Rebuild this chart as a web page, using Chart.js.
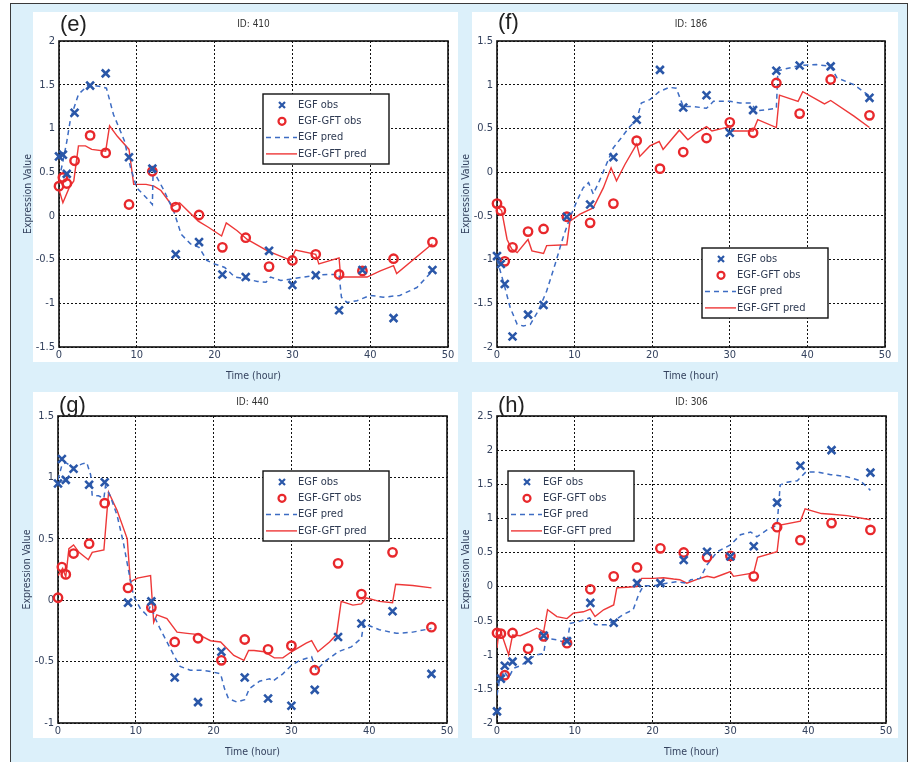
<!DOCTYPE html>
<html>
<head>
<meta charset="utf-8">
<script src="https://cdn.jsdelivr.net/npm/chart.js@4.4.1/dist/chart.umd.min.js"></script>
<style>
  body { margin: 0; width: 912px; height: 762px; overflow: hidden; background: #fff; position: relative; }
  .frame { position: absolute; left: 10px; top: 3px; width: 896px; height: 790px; border: 1.5px solid #3a3a3a; background: #dcf0fa; }
  .panel { position: absolute; background: #fff; }
  canvas { position: absolute; }
</style>
</head>
<body>
<div class="frame"></div>
<div class="panel" style="left:33px;top:12px;width:425px;height:350px"></div>
<div class="panel" style="left:472px;top:12px;width:426px;height:350px"></div>
<div class="panel" style="left:33px;top:392px;width:425px;height:346px"></div>
<div class="panel" style="left:472px;top:392px;width:426px;height:346px"></div>

<canvas id="c410" width="446" height="381" style="left:14px;top:8px"></canvas>
<canvas id="c186" width="445" height="381" style="left:452px;top:8px"></canvas>
<canvas id="c440" width="446" height="382" style="left:13px;top:383px"></canvas>
<canvas id="c306" width="446" height="382" style="left:452px;top:383px"></canvas>

<script>
// sampling times of the observations (hours)
const obsTime = [0, 0.5, 1, 2, 4, 6, 9, 12, 15, 18, 21, 24, 27, 30, 33, 36, 39, 43, 48];
const seriesNames = ['EGF obs', 'EGF-GFT obs', 'EGF pred', 'EGF-GFT pred'];

// ID 410
const egfObs410 = [0.68, 0.70, 0.48, 1.18, 1.49, 1.63, 0.67, 0.54, -0.44, -0.30, -0.67, -0.70, -0.40, -0.79, -0.68, -1.08, -0.62, -1.17, -0.62];
const gftObs410 = [0.34, 0.44, 0.37, 0.63, 0.92, 0.72, 0.13, 0.51, 0.10, 0.01, -0.36, -0.25, -0.58, -0.51, -0.44, -0.67, -0.63, -0.49, -0.30];
const egfPred410 = [[0,0.42],[0.5,0.62],[1,0.85],[1.5,1.12],[2.5,1.39],[3.8,1.50],[5.3,1.48],[6.1,1.46],[7,1.16],[8.4,0.86],
  [9.2,0.55],[10,0.32],[11.2,0.21],[12,0.13],[12.1,0.52],[13.5,0.29],[14.8,0.04],[15.7,-0.21],[16.9,-0.32],[18,-0.36],
  [19,-0.51],[20,-0.55],[21.3,-0.59],[22.6,-0.70],[24,-0.72],[25.5,-0.75],[26.6,-0.76],[27.2,-0.70],[28.5,-0.74],[30,-0.72],
  [31.5,-0.70],[33,-0.68],[34.5,-0.67],[36,-0.67],[36.3,-0.93],[37,-0.99],[38.3,-0.97],[40,-0.91],[41.7,-0.93],[43.8,-0.91],
  [46,-0.82],[48,-0.63]];
const gftPred410 = [[0,0.30],[0.5,0.15],[1.3,0.32],[1.9,0.40],[2.5,0.80],[3.4,0.80],[4.2,0.76],[6,0.74],[6.5,1.03],[7.5,0.91],
  [9,0.76],[9.6,0.36],[11.2,0.36],[12.2,0.34],[13.1,0.29],[14.6,0.11],[15.5,0.15],[17.9,-0.06],[19.2,-0.13],[20.9,-0.23],
  [21.5,-0.08],[22.9,-0.17],[24.2,-0.27],[26.8,-0.40],[29.8,-0.51],[30.4,-0.39],[33,-0.44],[33.4,-0.55],[36,-0.48],[36.2,-0.70],
  [39.6,-0.70],[41.3,-0.63],[43,-0.57],[43.4,-0.66],[48,-0.32]];

// ID 186
const egfObs186 = [-0.96, -1.05, -1.28, -1.88, -1.63, -1.52, -0.51, -0.37, 0.17, 0.60, 1.17, 0.74, 0.88, 0.45, 0.71, 1.16, 1.22, 1.21, 0.85];
const gftObs186 = [-0.36, -0.44, -1.02, -0.86, -0.68, -0.65, -0.51, -0.58, -0.36, 0.36, 0.04, 0.23, 0.39, 0.57, 0.45, 1.02, 0.67, 1.06, 0.65];
const egfPred186 = [[0,-1.00],[0.9,-1.28],[1.7,-1.55],[2.6,-1.74],[3.4,-1.76],[4.3,-1.74],[5.3,-1.59],[6.4,-1.36],[7.5,-1.05],[8.5,-0.75],
  [9.4,-0.52],[10.3,-0.33],[11.1,-0.18],[11.8,-0.12],[12.4,-0.25],[13.2,-0.10],[14.1,0.09],[15,0.28],[16,0.39],[17.1,0.52],
  [18,0.60],[18.6,0.79],[19.7,0.83],[20.9,0.92],[22.2,0.97],[23.1,0.96],[24,0.75],[25.4,0.75],[27,0.73],[27.9,0.81],
  [30,0.81],[31.3,0.79],[32.8,0.79],[33.4,0.70],[36,0.73],[36.2,1.16],[39,1.22],[41.2,1.23],[43,1.21],[43.8,1.08],
  [46,1.00],[48,0.87]];
const gftPred186 = [[0,-0.39],[0.6,-0.44],[1.3,-0.77],[1.9,-0.88],[2.6,-0.92],[3.8,-0.79],[4,-0.77],[4.5,-0.90],[6,-0.93],[6.4,-0.84],
  [9,-0.83],[9.4,-0.56],[10.7,-0.48],[12.4,-0.41],[13.7,-0.18],[14.7,0.05],[15.4,-0.10],[16.5,0.09],[18,0.32],[18.4,0.18],
  [19.7,0.30],[20.9,0.35],[21.4,0.26],[23.5,0.48],[24.6,0.37],[25.7,0.45],[27,0.52],[27.7,0.47],[30,0.52],[30.4,0.47],
  [33,0.47],[33.6,0.60],[36,0.51],[36.4,0.88],[38.8,0.81],[39.4,0.92],[42.2,0.78],[43,0.82],[46,0.64],[48,0.51]];

// ID 440
const egfObs440 = [0.95, 1.15, 0.98, 1.07, 0.94, 0.96, -0.02, -0.01, -0.63, -0.83, -0.42, -0.63, -0.80, -0.86, -0.73, -0.30, -0.19, -0.09, -0.60];
const gftObs440 = [0.02, 0.27, 0.21, 0.38, 0.46, 0.79, 0.10, -0.06, -0.34, -0.31, -0.49, -0.32, -0.40, -0.37, -0.57, 0.30, 0.05, 0.39, -0.22];
const egfPred440 = [[0,0.98],[0.5,1.10],[1,1.12],[2,1.08],[3.1,1.11],[3.7,1.12],[4.2,1.02],[4.4,0.85],[5.2,0.85],[5.9,0.83],
  [6.1,0.93],[6.7,0.85],[7.6,0.69],[8.4,0.47],[9.1,0.23],[9.7,0.04],[10.6,-0.07],[11.4,-0.12],[12.1,-0.01],[12.3,-0.12],
  [13.1,-0.23],[14,-0.34],[14.9,-0.45],[15.7,-0.54],[17,-0.57],[18.3,-0.57],[19.6,-0.58],[20.9,-0.60],[21.4,-0.72],[21.9,-0.80],
  [23,-0.83],[24,-0.81],[24.6,-0.72],[25.9,-0.66],[27.2,-0.64],[27.6,-0.66],[28.9,-0.60],[30,-0.53],[31.1,-0.49],[32.6,-0.46],
  [33.2,-0.57],[34.5,-0.49],[36,-0.42],[37.7,-0.38],[39,-0.31],[39.3,-0.19],[41.3,-0.24],[43.5,-0.27],[45.6,-0.26],[48,-0.23]];
const gftPred440 = [[0,0.20],[0.6,0.26],[1,0.19],[1.4,0.42],[2,0.45],[2.7,0.39],[3.9,0.33],[4.4,0.39],[5.9,0.41],[6.5,0.88],
  [7.6,0.73],[8.9,0.50],[9.3,0.15],[10.2,0.18],[11.9,0.20],[12.3,-0.18],[12.7,-0.12],[14,-0.15],[15.3,-0.26],[16.6,-0.27],
  [18.1,-0.28],[19.6,-0.33],[20.9,-0.34],[22.6,-0.45],[23.9,-0.49],[24.5,-0.41],[25.2,-0.41],[26.5,-0.42],[27.8,-0.47],[28.9,-0.47],
  [30,-0.42],[31.9,-0.35],[32.6,-0.33],[33.4,-0.42],[34.9,-0.34],[35.8,-0.28],[36.4,-0.01],[37.9,-0.04],[39,-0.03],[39.6,0.02],
  [41.3,-0.01],[43,-0.02],[43.4,0.13],[45.6,0.12],[48,0.10]];

// ID 306
const egfObs306 = [-1.83, -1.35, -1.16, -1.10, -1.08, -0.72, -0.80, -0.24, -0.53, 0.05, 0.05, 0.39, 0.51, 0.44, 0.59, 1.23, 1.77, 2.00, 1.67];
const gftObs306 = [-0.68, -0.69, -1.30, -0.68, -0.91, -0.73, -0.83, -0.04, 0.15, 0.28, 0.56, 0.50, 0.43, 0.45, 0.15, 0.87, 0.68, 0.93, 0.83];
const egfPred306 = [[0,-1.59],[0.3,-1.39],[0.9,-1.24],[1.5,-1.34],[2.1,-1.20],[3.2,-1.15],[4,-1.07],[5.1,-1.00],[6,-0.98],[6.3,-0.76],
  [7.7,-0.78],[9,-0.83],[9.4,-0.54],[10.6,-0.51],[11.9,-0.46],[12.6,-0.56],[14.1,-0.56],[15,-0.51],[16.2,-0.41],[17.5,-0.34],
  [18.2,-0.12],[18.8,0.01],[20.1,0.01],[21.8,0.05],[23.1,0.07],[24.4,0.05],[24.9,0.10],[26.1,0.12],[27,0.32],[28.3,0.51],
  [30,0.61],[31.3,0.76],[32.6,0.80],[33.4,0.73],[34.7,0.83],[36,0.90],[36.4,1.49],[37.3,1.53],[38.6,1.55],[39.7,1.68],
  [41.2,1.68],[42.9,1.64],[45,1.61],[46.7,1.55],[48,1.41]];
const gftPred306 = [[0,-0.90],[0.2,-0.71],[0.6,-0.70],[1.5,-1.00],[2,-0.71],[3,-0.72],[4,-0.67],[5.1,-0.61],[6,-0.66],[6.5,-0.34],
  [7.7,-0.44],[9,-0.47],[9.8,-0.39],[11.1,-0.37],[12,-0.33],[12.6,-0.44],[13.7,-0.34],[15,-0.27],[15.4,-0.02],[16.7,-0.01],
  [18,0.00],[18.6,0.12],[20.1,0.12],[21.4,0.13],[22.7,0.11],[23.5,0.10],[24.4,0.05],[25.8,0.11],[27,0.15],[27.9,0.13],
  [29.1,0.18],[30,0.22],[30.4,0.15],[33,0.20],[33.5,0.43],[36,0.51],[36.4,0.90],[39,0.96],[39.6,1.14],[41.7,1.07],
  [43,1.06],[45,1.04],[48,0.98]];

const BLUE = '#2a57a8', BLUE_LINE = '#3d6cc3', RED = '#e8282c', RED_LINE = '#ee3838';
const FONT = "'Liberation Sans Narrow', 'DejaVu Sans Condensed', 'Liberation Sans', sans-serif";
const TXT = '#34425e';

const pairs = (xs, ys) => xs.map((x, i) => ({ x, y: ys[i] }));
const pts = arr => arr.map(p => ({ x: p[0], y: p[1] }));

// black box round the axes, under the data
const axesBox = {
  id: 'axesBox',
  beforeDatasetsDraw(chart) {
    const { ctx, chartArea: a } = chart;
    ctx.save();
    ctx.strokeStyle = '#111';
    ctx.lineWidth = 1.6;
    ctx.strokeRect(a.left, a.top, a.right - a.left, a.bottom - a.top);
    ctx.restore();
  }
};

// panel letter and ID caption above the axes
const panelText = {
  id: 'panelText',
  afterDraw(chart, args, o) {
    const { ctx, chartArea: a } = chart;
    ctx.save();
    ctx.fillStyle = '#222';
    ctx.textBaseline = 'middle';
    ctx.font = "22px 'Liberation Sans', Arial, sans-serif";
    ctx.fillText(o.letter, a.left + 1, a.top + o.letterDy);
    ctx.font = '10px ' + FONT;
    ctx.fillStyle = '#333';
    ctx.textAlign = 'center';
    ctx.fillText(o.id, (a.left + a.right) / 2, a.top + o.idDy);
    ctx.restore();
  }
};

// boxed legend inside the axes
const boxLegend = {
  id: 'boxLegend',
  afterDatasetsDraw(chart, args, o) {
    const { ctx, chartArea: a } = chart;
    const x0 = a.left + o.x, y0 = a.top + o.y, w = 126, h = 70;
    ctx.save();
    ctx.fillStyle = '#fff';
    ctx.fillRect(x0, y0, w, h);
    ctx.strokeStyle = '#111';
    ctx.lineWidth = 1.4;
    ctx.strokeRect(x0, y0, w, h);
    ctx.font = '11px ' + FONT;
    ctx.textBaseline = 'middle';
    chart.data.datasets.forEach((ds, i) => {
      const y = y0 + 11 + i * 16.3;
      const mx = x0 + 19;
      if (ds.showLine === false) {
        ctx.strokeStyle = ds.borderColor;
        ctx.lineWidth = 2.2;
        ctx.setLineDash([]);
        ctx.beginPath();
        if (ds.pointStyle === 'crossRot') {
          const r = 3;
          ctx.moveTo(mx - r, y - r); ctx.lineTo(mx + r, y + r);
          ctx.moveTo(mx - r, y + r); ctx.lineTo(mx + r, y - r);
        } else {
          ctx.arc(mx, y, 3.5, 0, Math.PI * 2);
        }
        ctx.stroke();
      } else {
        ctx.strokeStyle = ds.borderColor;
        ctx.lineWidth = ds.borderWidth;
        ctx.setLineDash(ds.borderDash || []);
        ctx.beginPath();
        ctx.moveTo(x0 + 3, y);
        ctx.lineTo(x0 + 34, y);
        ctx.stroke();
      }
      ctx.setLineDash([]);
      ctx.fillStyle = '#2e3a52';
      ctx.fillText(ds.label, x0 + 35, y);
    });
    ctx.restore();
  }
};

function makePanel(canvasId, p) {
  return new Chart(document.getElementById(canvasId), {
    type: 'line',
    data: {
      datasets: [
        { label: seriesNames[0], data: pairs(obsTime, p.egfObs), showLine: false, pointStyle: 'crossRot',
          pointRadius: 5.5, pointBorderWidth: 2.6, borderColor: BLUE, backgroundColor: BLUE, clip: false },
        { label: seriesNames[1], data: pairs(obsTime, p.gftObs), showLine: false, pointStyle: 'circle',
          pointRadius: 4.2, pointBorderWidth: 2.4, borderColor: RED, backgroundColor: 'rgba(0,0,0,0)', clip: false },
        { label: seriesNames[2], data: pts(p.egfPred), borderColor: BLUE_LINE, borderWidth: 1.5,
          borderDash: [5, 4], pointRadius: 0, tension: 0 },
        { label: seriesNames[3], data: pts(p.gftPred), borderColor: RED_LINE, borderWidth: 1.4,
          pointRadius: 0, tension: 0 }
      ]
    },
    options: {
      responsive: false,
      animation: false,
      devicePixelRatio: 1,
      events: [],
      layout: { padding: { left: 0, right: 12, top: 33, bottom: 0 } },
      plugins: {
        legend: { display: false },
        tooltip: { enabled: false },
        boxLegend: { x: p.legX, y: p.legY },
        panelText: { letter: p.letter, id: p.id, letterDy: p.letterDy, idDy: p.idDy }
      },
      scales: {
        x: {
          type: 'linear', min: 0, max: 50,
          afterFit: s => { s.height = 42; },
          ticks: { stepSize: 10, padding: 2, maxRotation: 0, color: TXT, font: { family: FONT, size: 11 } },
          grid: { color: '#111', lineWidth: 1, drawTicks: false },
          border: { display: false, dash: [2, 2] },
          title: { display: true, text: 'Time (hour)', color: TXT, font: { family: FONT, size: 10.5 }, padding: { top: 0, bottom: 6 } }
        },
        y: {
          min: p.yMin, max: p.yMax,
          afterFit: s => { s.width = 45; },
          ticks: { stepSize: 0.5, padding: 4, color: TXT, font: { family: FONT, size: 11 },
                   callback: v => String(Math.round(v * 10) / 10) },
          grid: { color: '#111', lineWidth: 1, drawTicks: false },
          border: { display: false, dash: [2, 2] },
          title: { display: true, text: 'Expression Value', color: TXT, font: { family: FONT, size: 10.5 }, padding: { top: 8, bottom: 0 } }
        }
      }
    },
    plugins: [axesBox, boxLegend, panelText]
  });
}

makePanel('c410', { letter: '(e)', id: 'ID: 410', letterDy: -16, idDy: -17, yMin: -1.5, yMax: 2,
  egfObs: egfObs410, gftObs: gftObs410, egfPred: egfPred410, gftPred: gftPred410, legX: 204, legY: 53 });
makePanel('c186', { letter: '(f)', id: 'ID: 186', letterDy: -18, idDy: -17, yMin: -2, yMax: 1.5,
  egfObs: egfObs186, gftObs: gftObs186, egfPred: egfPred186, gftPred: gftPred186, legX: 205, legY: 207 });
makePanel('c440', { letter: '(g)', id: 'ID: 440', letterDy: -10, idDy: -14, yMin: -1, yMax: 1.5,
  egfObs: egfObs440, gftObs: gftObs440, egfPred: egfPred440, gftPred: gftPred440, legX: 205, legY: 55 });
makePanel('c306', { letter: '(h)', id: 'ID: 306', letterDy: -10, idDy: -14, yMin: -2, yMax: 2.5,
  egfObs: egfObs306, gftObs: gftObs306, egfPred: egfPred306, gftPred: gftPred306, legX: 11, legY: 55 });
</script>
</body>
</html>
